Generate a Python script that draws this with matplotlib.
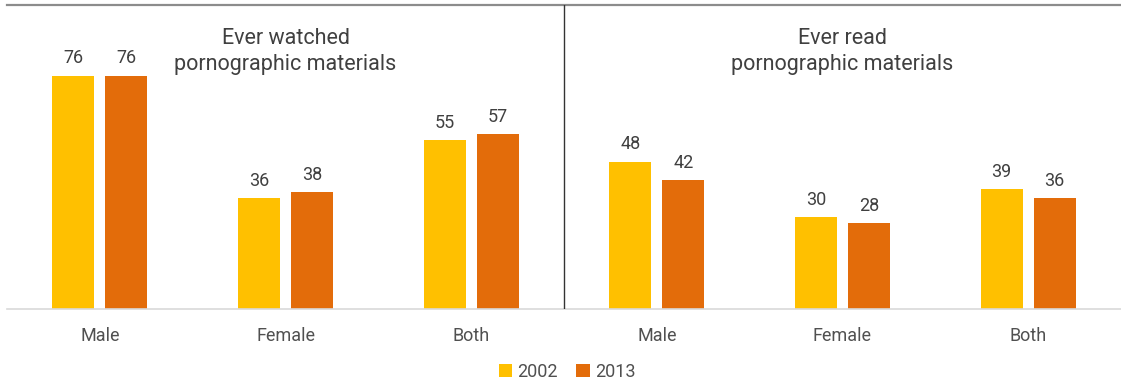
import matplotlib
matplotlib.use("Agg")
import matplotlib.pyplot as plt
from matplotlib.patches import Patch
import numpy as np

plt.rcParams["font.family"] = ["Roboto", "DejaVu Sans"]

categories = ["Male", "Female", "Both", "Male", "Female", "Both"]
panel_titles = ["Ever watched\npornographic materials", "Ever read\npornographic materials"]
series_names = ["2002", "2013"]
values_2002 = [76, 36, 55, 48, 30, 39]
values_2013 = [76, 38, 57, 42, 28, 36]
colors = ["#FFC000", "#E36C0A"]

text_color = "#505050"

fig = plt.figure(figsize=(11.21, 3.81), dpi=100)
ax = fig.add_axes([7 / 1121, 72 / 381, 1 - 7 / 1121, 304 / 381])

x = np.arange(len(categories))
width = 0.226
offset = 0.143

for vals, col, dx in ((values_2002, colors[0], -offset), (values_2013, colors[1], offset)):
    bars = ax.bar(x + dx, vals, width=width, color=col, zorder=2)
    for b, v in zip(bars, vals):
        ax.annotate(f"{v}", (b.get_x() + b.get_width() / 2, v), xytext=(0, 6),
                    textcoords="offset points", ha="center", va="bottom",
                    fontsize=13, color="#404040")

ax.set_xlim(-0.5, 5.5)
ax.set_ylim(0, 99)
ax.axvline(2.5, color="#333333", lw=1.0, zorder=3)

for s in ("left", "right"):
    ax.spines[s].set_visible(False)
ax.spines["top"].set_color("#8c8c8c")
ax.spines["top"].set_linewidth(1.6)
ax.spines["bottom"].set_color("#d9d9d9")
ax.spines["bottom"].set_linewidth(1.2)

ax.set_yticks([])
ax.set_xticks(x)
ax.set_xticklabels(categories, fontsize=13, color=text_color)
ax.tick_params(axis="x", length=0, pad=13)

for cx, title in zip((1, 4), panel_titles):
    ax.text(cx, 91.5, title, ha="center", va="top", fontsize=15.5, color="#404040",
            linespacing=1.3)

handles = [Patch(facecolor=c, edgecolor="none") for c in colors]
fig.legend(handles, series_names, loc="center", bbox_to_anchor=(567 / 1121, 1 - 372 / 381),
           ncol=2, frameon=False, handlelength=0.75, handleheight=0.75,
           handletextpad=0.3, columnspacing=1.0, labelcolor=text_color,
           prop={"size": 13})

fig.savefig("out.png", dpi=100)
